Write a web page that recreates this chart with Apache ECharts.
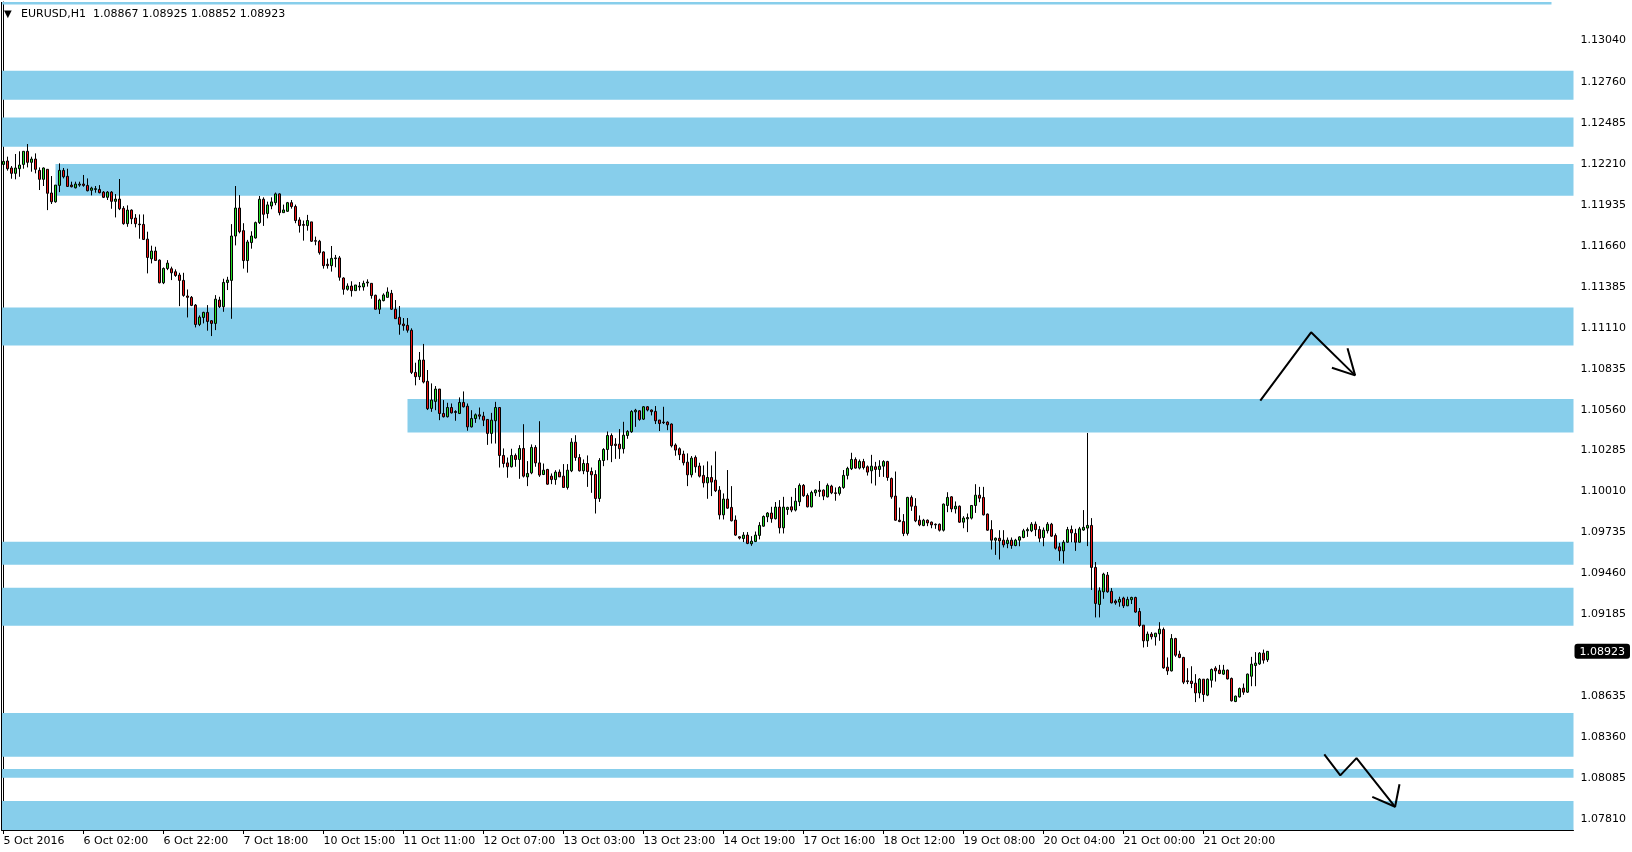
<!DOCTYPE html>
<html>
<head>
<meta charset="utf-8">
<script src="https://cdn.jsdelivr.net/npm/echarts@6.0.0/dist/echarts.min.js"></script>
<style>
html,body{margin:0;padding:0;background:#fff;}
#c{width:1632px;height:852px;}
</style>
</head>
<body>
<div id="c"></div>
<script>
// ---------- DATA ----------
const symbolName = 'EURUSD,H1';
const tickLabels = ['5 Oct 2016','6 Oct 02:00','6 Oct 22:00','7 Oct 18:00','10 Oct 15:00','11 Oct 11:00','12 Oct 07:00','13 Oct 03:00','13 Oct 23:00','14 Oct 19:00','17 Oct 16:00','18 Oct 12:00','19 Oct 08:00','20 Oct 04:00','21 Oct 00:00','21 Oct 20:00'];
const priceTicks = [1.13040,1.12760,1.12485,1.12210,1.11935,1.11660,1.11385,1.11110,1.10835,1.10560,1.10285,1.10010,1.09735,1.09460,1.09185,1.08635,1.08360,1.08085,1.07810];
const barSlots = 393; // visible hourly slots (incl. empty space on the right)

const open = [
1.12194,1.12217,1.12170,1.12134,1.12165,1.12194,1.12282,1.12208,1.12230,1.12154,
1.12094,1.12161,1.12002,1.11943,1.12053,1.12154,1.12114,1.12055,1.12037,1.12055,
1.12062,1.12053,1.12020,1.12026,1.12026,1.12008,1.11973,1.12008,1.11946,1.11961,
1.11899,1.11796,1.11887,1.11834,1.11793,1.11791,1.11692,1.11560,1.11612,1.11551,
1.11399,1.11495,1.11493,1.11473,1.11451,1.11415,1.11310,1.11301,1.11249,1.11119,
1.11166,1.11200,1.11144,1.11126,1.11283,1.11238,1.11401,1.11415,1.11713,1.11901,
1.11749,1.11548,1.11669,1.11700,1.11803,1.11960,1.11864,1.11915,1.11937,1.11996,
1.11870,1.11879,1.11937,1.11911,1.11821,1.11790,1.11783,1.11808,1.11682,1.11678,
1.11606,1.11523,1.11514,1.11561,1.11566,1.11431,1.11355,1.11377,1.11346,1.11371,
1.11371,1.11398,1.11395,1.11315,1.11221,1.11279,1.11301,1.11328,1.11221,1.11167,
1.11122,1.11113,1.11080,1.10797,1.10768,1.10880,1.10737,1.10555,1.10602,1.10685,
1.10521,1.10499,1.10561,1.10534,1.10521,1.10595,1.10570,1.10431,1.10487,1.10512,
1.10503,1.10481,1.10387,1.10472,1.10561,1.10239,1.10189,1.10163,1.10239,1.10212,
1.10286,1.10095,1.10122,1.10293,1.10189,1.10111,1.10145,1.10100,1.10077,1.10127,
1.10100,1.10024,1.10136,1.10328,1.10225,1.10136,1.10185,1.10131,1.10111,1.09950,
1.10205,1.10279,1.10373,1.10315,1.10315,1.10284,1.10373,1.10398,1.10532,1.10539,
1.10483,1.10566,1.10544,1.10535,1.10477,1.10463,1.10463,1.10450,1.10309,1.10284,
1.10248,1.10194,1.10109,1.10226,1.10168,1.10105,1.10055,1.10091,1.10073,1.10006,
1.09840,1.09946,1.09890,1.09805,1.09693,1.09681,1.09704,1.09646,1.09661,1.09702,
1.09764,1.09827,1.09852,1.09814,1.09892,1.09753,1.09876,1.09894,1.09872,1.09928,
1.10038,1.09970,1.09894,1.09988,1.10006,1.10006,1.09961,1.10033,1.09988,1.09984,
1.10024,1.10105,1.10150,1.10212,1.10154,1.10198,1.10163,1.10136,1.10163,1.10145,
1.10167,1.10198,1.10084,1.09966,1.09804,1.09795,1.09715,1.09957,1.09898,1.09804,
1.09768,1.09804,1.09791,1.09777,1.09777,1.09737,1.09903,1.09961,1.09880,1.09898,
1.09791,1.09813,1.09818,1.09903,1.09972,1.09957,1.09845,1.09741,1.09670,1.09683,
1.09670,1.09647,1.09670,1.09634,1.09670,1.09688,1.09733,1.09733,1.09777,1.09741,
1.09688,1.09733,1.09777,1.09701,1.09625,1.09598,1.09656,1.09741,1.09715,1.09656,
1.09738,1.09751,1.09769,1.09487,1.09238,1.09323,1.09435,1.09326,1.09261,1.09254,
1.09281,1.09229,1.09270,1.09285,1.09191,1.09099,1.08994,1.09039,1.09021,1.09041,
1.09070,1.08817,1.08792,1.09009,1.08904,1.08882,1.08725,1.08723,1.08709,1.08644,
1.08736,1.08629,1.08729,1.08810,1.08797,1.08770,1.08797,1.08741,1.08586,1.08617,
1.08676,1.08649,1.08756,1.08828,1.08839,1.08911,1.08867
];
const high = [
1.12246,1.12246,1.12183,1.12264,1.12282,1.12282,1.12331,1.12246,1.12268,1.12174,
1.12174,1.12161,1.12116,1.12055,1.12201,1.12170,1.12165,1.12078,1.12078,1.12078,
1.12123,1.12100,1.12044,1.12049,1.12055,1.12015,1.12015,1.12015,1.11995,1.12096,
1.11914,1.11919,1.11892,1.11860,1.11858,1.11858,1.11742,1.11648,1.11641,1.11556,
1.11502,1.11551,1.11507,1.11489,1.11466,1.11466,1.11354,1.11310,1.11256,1.11180,
1.11204,1.11249,1.11148,1.11316,1.11305,1.11426,1.11439,1.11793,1.12049,1.11988,
1.11799,1.11687,1.11745,1.11810,1.11982,1.11973,1.11944,1.11973,1.12005,1.12000,
1.11924,1.11942,1.11955,1.11924,1.11839,1.11817,1.11855,1.11808,1.11709,1.11687,
1.11610,1.11561,1.11646,1.11586,1.11579,1.11436,1.11395,1.11409,1.11384,1.11404,
1.11413,1.11422,1.11395,1.11319,1.11292,1.11328,1.11368,1.11351,1.11283,1.11243,
1.11162,1.11162,1.11093,1.10862,1.10934,1.10988,1.10813,1.10723,1.10705,1.10685,
1.10611,1.10593,1.10588,1.10543,1.10629,1.10669,1.10588,1.10543,1.10521,1.10561,
1.10532,1.10481,1.10525,1.10599,1.10561,1.10286,1.10225,1.10284,1.10252,1.10308,
1.10449,1.10201,1.10313,1.10308,1.10469,1.10185,1.10149,1.10118,1.10140,1.10145,
1.10181,1.10181,1.10355,1.10375,1.10248,1.10212,1.10239,1.10158,1.10140,1.10221,
1.10288,1.10400,1.10387,1.10355,1.10416,1.10465,1.10409,1.10543,1.10552,1.10543,
1.10571,1.10571,1.10548,1.10571,1.10477,1.10566,1.10468,1.10454,1.10320,1.10293,
1.10271,1.10253,1.10235,1.10239,1.10190,1.10172,1.10199,1.10172,1.10266,1.10033,
1.09984,1.10141,1.10033,1.09836,1.09697,1.09724,1.09724,1.09697,1.09728,1.09791,
1.09836,1.09858,1.09894,1.09926,1.09939,1.09961,1.09894,1.09961,1.10020,1.10051,
1.10047,1.09984,1.10002,1.10011,1.10067,1.10011,1.10051,1.10042,1.10024,1.10033,
1.10141,1.10163,1.10257,1.10226,1.10212,1.10216,1.10172,1.10243,1.10196,1.10207,
1.10207,1.10203,1.10091,1.10131,1.09889,1.09845,1.09961,1.09970,1.09952,1.09836,
1.09813,1.09809,1.09795,1.09782,1.09782,1.09916,1.09992,1.09966,1.09930,1.09903,
1.09831,1.09849,1.09903,1.10046,1.10028,1.10028,1.09849,1.09804,1.09688,1.09737,
1.09737,1.09688,1.09688,1.09679,1.09697,1.09746,1.09755,1.09791,1.09795,1.09764,
1.09755,1.09791,1.09786,1.09715,1.09652,1.09670,1.09759,1.09768,1.09746,1.09759,
1.09872,1.10390,1.09818,1.09523,1.09353,1.09451,1.09456,1.09348,1.09272,1.09290,
1.09290,1.09290,1.09290,1.09290,1.09214,1.09099,1.09056,1.09052,1.09047,1.09119,
1.09083,1.08882,1.09039,1.09014,1.08927,1.08886,1.08810,1.08823,1.08770,1.08743,
1.08736,1.08741,1.08808,1.08823,1.08832,1.08832,1.08801,1.08747,1.08626,1.08680,
1.08707,1.08774,1.08886,1.08918,1.08918,1.08935,1.08925
];
const low = [
1.12152,1.12152,1.12098,1.12094,1.12111,1.12165,1.12174,1.12145,1.12134,1.12022,
1.12049,1.11887,1.11928,1.11937,1.12008,1.12100,1.12044,1.12040,1.12033,1.12044,
1.12044,1.12013,1.11986,1.12004,1.12000,1.11968,1.11955,1.11896,1.11838,1.11887,
1.11789,1.11775,1.11793,1.11771,1.11695,1.11686,1.11462,1.11529,1.11545,1.11395,
1.11390,1.11484,1.11417,1.11439,1.11242,1.11305,1.11166,1.11242,1.11099,1.11108,
1.11126,1.11077,1.11041,1.11081,1.11229,1.11204,1.11350,1.11157,1.11650,1.11731,
1.11494,1.11467,1.11628,1.11696,1.11794,1.11781,1.11832,1.11893,1.11920,1.11852,
1.11870,1.11875,1.11897,1.11799,1.11736,1.11682,1.11749,1.11673,1.11651,1.11588,
1.11494,1.11494,1.11474,1.11503,1.11413,1.11319,1.11346,1.11306,1.11346,1.11346,
1.11346,1.11373,1.11292,1.11221,1.11189,1.11274,1.11301,1.11216,1.11158,1.11050,
1.11077,1.11064,1.10786,1.10710,1.10746,1.10723,1.10544,1.10532,1.10543,1.10476,
1.10494,1.10494,1.10521,1.10472,1.10517,1.10561,1.10405,1.10427,1.10458,1.10481,
1.10436,1.10310,1.10319,1.10319,1.10158,1.10158,1.10089,1.10158,1.10163,1.10082,
1.10091,1.10033,1.10113,1.10163,1.10095,1.10107,1.10042,1.10046,1.10042,1.10095,
1.10024,1.10010,1.10127,1.10203,1.10131,1.10113,1.10028,1.09988,1.09849,1.09927,
1.10167,1.10207,1.10194,1.10216,1.10216,1.10252,1.10351,1.10391,1.10431,1.10472,
1.10477,1.10535,1.10508,1.10450,1.10403,1.10450,1.10409,1.10293,1.10237,1.10208,
1.10172,1.10033,1.10091,1.10123,1.10091,1.10024,1.09948,1.09966,1.09993,1.09809,
1.09809,1.09881,1.09796,1.09699,1.09675,1.09657,1.09643,1.09632,1.09657,1.09675,
1.09760,1.09791,1.09787,1.09809,1.09715,1.09715,1.09840,1.09858,1.09863,1.09899,
1.09961,1.09890,1.09890,1.09966,1.09961,1.09939,1.09957,1.09979,1.09935,1.09970,
1.10015,1.10078,1.10141,1.10150,1.10145,1.10145,1.10104,1.10051,1.10037,1.10095,
1.10095,1.10069,1.09948,1.09800,1.09791,1.09697,1.09701,1.09867,1.09791,1.09764,
1.09764,1.09764,1.09750,1.09746,1.09728,1.09728,1.09858,1.09858,1.09849,1.09786,
1.09750,1.09724,1.09809,1.09853,1.09925,1.09836,1.09733,1.09607,1.09571,1.09540,
1.09621,1.09616,1.09612,1.09629,1.09629,1.09683,1.09692,1.09724,1.09697,1.09656,
1.09629,1.09715,1.09692,1.09607,1.09531,1.09513,1.09652,1.09656,1.09598,1.09652,
1.09733,1.09630,1.09335,1.09151,1.09151,1.09276,1.09317,1.09245,1.09236,1.09223,
1.09214,1.09227,1.09241,1.09182,1.09088,1.08949,1.08953,1.09003,1.08962,1.08994,
1.08806,1.08765,1.08788,1.08886,1.08877,1.08703,1.08703,1.08676,1.08582,1.08608,
1.08584,1.08622,1.08680,1.08720,1.08770,1.08765,1.08734,1.08586,1.08582,1.08613,
1.08631,1.08644,1.08689,1.08689,1.08832,1.08841,1.08852
];
const close = [
1.12214,1.12165,1.12134,1.12170,1.12190,1.12282,1.12208,1.12230,1.12161,1.12094,
1.12170,1.12000,1.11943,1.12055,1.12154,1.12111,1.12046,1.12044,1.12062,1.12062,
1.12053,1.12017,1.12035,1.12031,1.12004,1.11973,1.12008,1.11946,1.11961,1.11896,
1.11796,1.11887,1.11829,1.11796,1.11789,1.11690,1.11569,1.11612,1.11549,1.11399,
1.11495,1.11531,1.11466,1.11448,1.11415,1.11314,1.11301,1.11247,1.11119,1.11168,
1.11200,1.11139,1.11126,1.11289,1.11238,1.11401,1.11417,1.11713,1.11901,1.11742,
1.11548,1.11673,1.11713,1.11803,1.11960,1.11859,1.11922,1.11942,1.11996,1.11870,
1.11888,1.11937,1.11911,1.11817,1.11783,1.11785,1.11817,1.11678,1.11678,1.11601,
1.11514,1.11514,1.11563,1.11566,1.11436,1.11355,1.11377,1.11346,1.11384,1.11377,
1.11395,1.11404,1.11313,1.11221,1.11283,1.11317,1.11337,1.11221,1.11158,1.11120,
1.11111,1.11080,1.10797,1.10768,1.10880,1.10732,1.10553,1.10611,1.10685,1.10521,
1.10499,1.10561,1.10525,1.10528,1.10595,1.10566,1.10431,1.10487,1.10512,1.10503,
1.10476,1.10387,1.10476,1.10561,1.10239,1.10185,1.10163,1.10239,1.10212,1.10286,
1.10100,1.10118,1.10293,1.10189,1.10107,1.10140,1.10046,1.10077,1.10127,1.10095,
1.10024,1.10140,1.10328,1.10225,1.10136,1.10185,1.10131,1.10109,1.09950,1.10205,
1.10279,1.10373,1.10306,1.10306,1.10284,1.10375,1.10400,1.10534,1.10543,1.10481,
1.10566,1.10544,1.10533,1.10472,1.10454,1.10459,1.10445,1.10304,1.10275,1.10244,
1.10190,1.10109,1.10221,1.10163,1.10100,1.10055,1.10091,1.10060,1.10002,1.09840,
1.09946,1.09885,1.09800,1.09704,1.09684,1.09704,1.09648,1.09663,1.09704,1.09769,
1.09829,1.09852,1.09814,1.09892,1.09753,1.09892,1.09890,1.09872,1.09932,1.10038,
1.09968,1.09894,1.09990,1.10006,1.09997,1.09966,1.10038,1.09988,1.09984,1.10024,
1.10105,1.10152,1.10212,1.10154,1.10199,1.10158,1.10127,1.10167,1.10145,1.10167,
1.10198,1.10091,1.09961,1.09804,1.09795,1.09715,1.09957,1.09898,1.09800,1.09773,
1.09804,1.09786,1.09773,1.09773,1.09737,1.09912,1.09957,1.09880,1.09898,1.09791,
1.09818,1.09822,1.09903,1.09972,1.09952,1.09840,1.09737,1.09670,1.09683,1.09665,
1.09638,1.09670,1.09634,1.09670,1.09692,1.09733,1.09741,1.09777,1.09741,1.09683,
1.09737,1.09777,1.09697,1.09616,1.09598,1.09656,1.09741,1.09719,1.09656,1.09746,
1.09756,1.09769,1.09487,1.09245,1.09330,1.09442,1.09323,1.09249,1.09249,1.09272,
1.09229,1.09272,1.09285,1.09187,1.09097,1.08994,1.09039,1.09021,1.09045,1.09072,
1.08812,1.08792,1.09009,1.08897,1.08882,1.08716,1.08720,1.08707,1.08644,1.08736,
1.08633,1.08736,1.08801,1.08792,1.08774,1.08797,1.08738,1.08591,1.08622,1.08673,
1.08649,1.08770,1.08837,1.08844,1.08911,1.08864,1.08923
];

// horizontal zones: [upper price, lower price, first bar (null = left edge), last bar (null = right edge)]
const zones = [
  [1.13285, 1.13268, null, 387],
  [1.12823, 1.12628, null, null],
  [1.12509, 1.12312, null, null],
  [1.12197, 1.11984, 13, null],
  [1.11232, 1.10978, null, null],
  [1.10618, 1.10393, 101, null],
  [1.09659, 1.09505, null, null],
  [1.09350, 1.09095, null, null],
  [1.08509, 1.08215, null, null],
  [1.08132, 1.08074, null, null],
  [1.07917, 1.07723, null, null]
];

// hand-drawn arrows: [bar position, price]
const arrowUpPath   = [[314.2, 1.10607], [326.9, 1.11066], [337.9, 1.10777]];
const arrowUpHead   = [[336.0, 1.10959], [337.9, 1.10777], [332.1, 1.10828]];
const arrowDownPath = [[330.2, 1.08231], [334.2, 1.08090], [338.25, 1.08206], [347.9, 1.07879]];
const arrowDownHead = [[349.0, 1.08030], [347.9, 1.07879], [342.2, 1.07946]];

const yMin = 1.07723, yMax = 1.13285;

// ---------- CHART ----------
const FONT = 'DejaVu Sans';
const last = open.length - 1;
const lastPrice = close[last];
const cats = Array.from({length: barSlots}, (_, i) => String(i));
const candles = open.map((o, i) => [o, close[i], low[i], high[i]]);
const showTick = (idx) => idx % 20 === 0 && idx / 20 < tickLabels.length;

const chart = echarts.init(document.getElementById('c'), null, {renderer: 'canvas', width: 1632, height: 852});

const arrowSeries = (d) => ({
  type: 'line', xAxisIndex: 1, yAxisIndex: 0, z: 6, silent: true,
  data: d, symbol: 'none', animation: false,
  lineStyle: {color: '#000', width: 2}
});

chart.setOption({
  animation: false,
  backgroundColor: '#ffffff',
  title: {
    text: '{t|▼}' + symbolName + '  ' + [open[last], high[last], low[last], close[last]].map(v => v.toFixed(5)).join(' '),
    left: 4, top: 9, padding: 0,
    textStyle: {fontFamily: FONT, fontSize: 11, fontWeight: 'normal', color: '#000',
      rich: {t: {fontSize: 10, fontFamily: FONT, color: '#000', width: 17}}}
  },
  grid: {left: 1.5, right: 58.5, top: 2, bottom: 22, containLabel: false},
  xAxis: [
    {
      type: 'category', data: cats, boundaryGap: true,
      axisLine: {show: true, lineStyle: {color: '#000', width: 1}},
      axisTick: {show: true, alignWithLabel: true, interval: showTick, length: 4, lineStyle: {color: '#000'}},
      axisLabel: {interval: showTick, formatter: (v, idx) => tickLabels[idx / 20] || '',
        align: 'left', margin: 6, color: '#000', fontFamily: FONT, fontSize: 11},
      splitLine: {show: false}
    },
    {type: 'value', min: -0.5, max: barSlots - 0.5, show: false}
  ],
  yAxis: [
    {
      type: 'value', position: 'right', min: yMin, max: yMax,
      axisLine: {show: true, lineStyle: {color: '#000', width: 1}},
      axisTick: {show: false},
      axisLabel: {customValues: priceTicks, formatter: v => '{p|' + v.toFixed(5) + '}', margin: 7,
        color: '#000', fontFamily: FONT, fontSize: 11,
        rich: {p: {padding: [4, 0, 0, 0], color: '#000', fontFamily: FONT, fontSize: 11}}},
      splitLine: {show: false},
      axisPointer: {
        show: true, type: 'line', value: lastPrice, status: 'show', snap: false, triggerTooltip: false,
        lineStyle: {color: 'rgba(0,0,0,0)', width: 0},
        label: {show: true, formatter: p => Number(p.value).toFixed(5), backgroundColor: '#000', color: '#fff',
          padding: [3, 5, 1, 5], margin: 1, fontFamily: FONT, fontSize: 11, borderWidth: 0}
      }
    }
  ],
  axisPointer: {triggerOn: 'none'},
  series: [
    {
      type: 'line', xAxisIndex: 1, yAxisIndex: 0, z: 1, silent: true, data: [],
      markArea: {
        silent: true,
        itemStyle: {color: '#87CEEB', opacity: 1},
        label: {show: false},
        data: zones.map(z => [
          {xAxis: z[2] === null ? -0.5 : z[2], yAxis: z[0]},
          {xAxis: z[3] === null ? barSlots - 0.5 : z[3], yAxis: z[1]}
        ])
      },
      markLine: {
        silent: true, symbol: 'none', animation: false,
        lineStyle: {color: '#000', width: 1, type: 'solid'},
        label: {show: false},
        data: [{xAxis: -0.5}]
      }
    },
    {
      type: 'candlestick', xAxisIndex: 0, yAxisIndex: 0, z: 3,
      data: candles, barWidth: 2,
      itemStyle: {color: '#22DD22', color0: '#EE1111', borderColor: '#000', borderColor0: '#000', borderColorDoji: '#000', borderWidth: 1},
      emphasis: {disabled: true}
    },
    arrowSeries(arrowUpPath),
    arrowSeries(arrowUpHead),
    arrowSeries(arrowDownPath),
    arrowSeries(arrowDownHead)
  ]
});
</script>
</body>
</html>
